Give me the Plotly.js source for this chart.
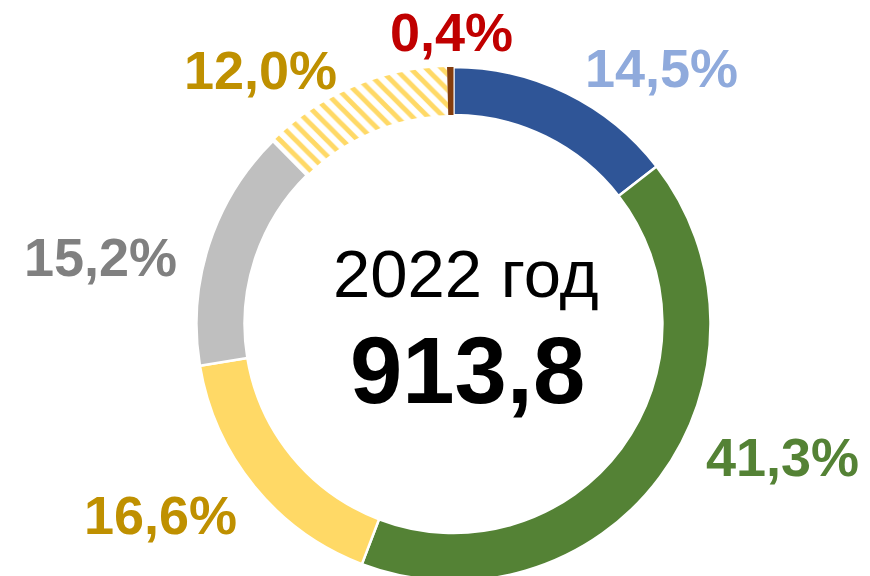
<!DOCTYPE html>
<html>
<head>
<meta charset="utf-8">
<script src="https://cdn.plot.ly/plotly-3.0.1.min.js"></script>
<style>
html, body { margin: 0; padding: 0; overflow: hidden; background: #ffffff; }
#chart { width: 870px; height: 600px; }
</style>
</head>
<body>
<div id="chart"></div>
<script>
// Data
const categories = ["Сегмент 1", "Сегмент 2", "Сегмент 3", "Сегмент 4", "Сегмент 5", "Сегмент 6"];
const shares = [14.5, 41.3, 16.6, 15.2, 12.0, 0.4];
const shareLabels = ["14,5%", "41,3%", "16,6%", "15,2%", "12,0%", "0,4%"];
const centerYear = "2022 год";
const centerTotal = "913,8";

// Styles
const sliceColors = ["#2F5597", "#548235", "#FFD966", "#BFBFBF", "#FFFFFF", "#843C0C"];
const patternShapes = ["", "", "", "", "\\", ""];
const patternFg = ["#2F5597", "#548235", "#FFD966", "#BFBFBF", "#FFD966", "#843C0C"];
const lineWidths = [2.5, 2.5, 2.5, 2.5, 0, 0];
const labelColors = ["#8FAADC", "#548235", "#BF9000", "#808080", "#BF9000", "#C00000"];
// label anchor positions in pixels (x from left, y from top)
const labelPx = [[661, 68], [782, 457], [160, 515], [100, 257], [260, 70], [451, 32]];

const W = 870, H = 600;
const cx = 453.5, cy = 324, R = 257;
const FONT = "'Liberation Sans', Arial, sans-serif";

const trace = {
  type: "pie",
  labels: categories,
  values: shares,
  sort: false,
  direction: "clockwise",
  rotation: 0,
  hole: 0.813,
  textinfo: "none",
  hoverinfo: "none",
  showlegend: false,
  domain: { x: [(cx - R) / W, (cx + R) / W], y: [(H - cy - R) / H, (H - cy + R) / H] },
  marker: {
    colors: sliceColors,
    line: { color: "#FFFFFF", width: lineWidths },
    pattern: { shape: patternShapes, fgcolor: patternFg, bgcolor: sliceColors, size: 11, solidity: 0.45, fillmode: "replace" }
  }
};

const annotations = shareLabels.map((t, i) => ({
  text: "<b>" + t + "</b>",
  x: labelPx[i][0] / W,
  y: (H - labelPx[i][1]) / H,
  xref: "paper", yref: "paper",
  xanchor: "center", yanchor: "middle",
  showarrow: false,
  font: { family: FONT, size: 54, color: labelColors[i] }
}));
annotations.push({
  text: centerYear, x: 466 / W, y: (H - 273) / H, xref: "paper", yref: "paper",
  xanchor: "center", yanchor: "middle", showarrow: false,
  font: { family: FONT, size: 67, color: "#000000" }
});
annotations.push({
  text: "<b>" + centerTotal + "</b>", x: 468 / W, y: (H - 370) / H, xref: "paper", yref: "paper",
  xanchor: "center", yanchor: "middle", showarrow: false,
  font: { family: FONT, size: 94, color: "#000000" }
});

const layout = {
  width: W, height: H,
  margin: { l: 0, r: 0, t: 0, b: 0 },
  paper_bgcolor: "#FFFFFF",
  plot_bgcolor: "#FFFFFF",
  annotations: annotations
};

Plotly.newPlot("chart", [trace], layout, { displayModeBar: false, staticPlot: true });
</script>
</body>
</html>
